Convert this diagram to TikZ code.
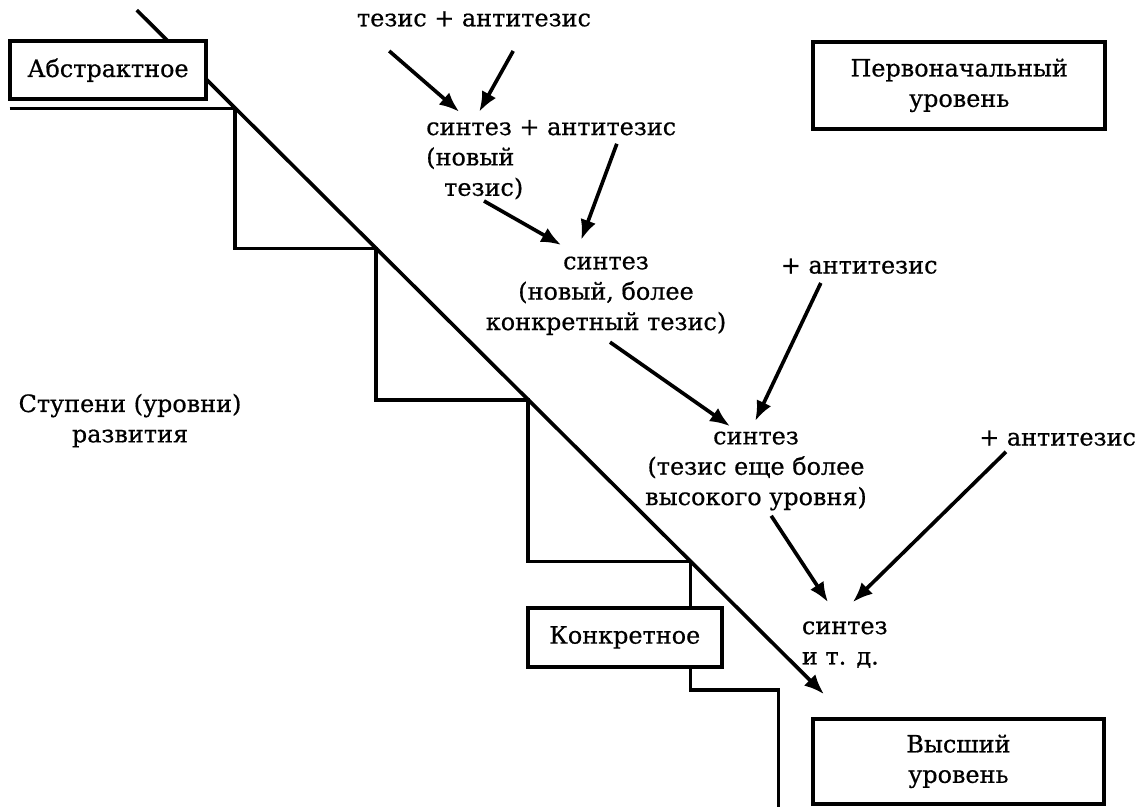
\documentclass[tikz,border=0pt]{standalone}
\usepackage{fontspec}
\setmainfont{DejaVu Serif}[FakeBold=0.6]
\usetikzlibrary{arrows.meta}

\begin{document}
\begin{tikzpicture}[
	font=\fontsize{8.5}{10.8}\selectfont,
	line width=1.3pt,
	box/.style={draw, fill=white, line width=1.4pt, align=center, inner sep=0pt},
	txt/.style={align=center, inner sep=1pt},
	arr/.style={-{Latex[length=2.5mm,width=2mm]}, line width=1.3pt},
	]
	\useasboundingbox (0,0) rectangle (14.2375,10.0875);

	\coordinate (up) at (1.71,9.96);
	\coordinate (down) at (10.30,1.41);

	% stairs
	\draw (0.12,8.73) -- (2.94,8.73) -- (2.94,6.98) -- (4.70,6.98) -- (4.70,5.09)
		-- (6.60,5.09) -- (6.60,3.07) -- (8.63,3.07) -- (8.63,1.46) -- (9.73,1.46) -- (9.73,0);
	\draw [arr] (up) to (down);

	\node [box, minimum width=2.44cm, minimum height=0.73cm] (abstr) at (1.35,9.21) {Абстрактное};
	\node [box, minimum width=3.65cm, minimum height=1.09cm] (first) at (11.99,9.02) {Первоначальный\\уровень};
	\node [box, minimum width=2.43cm, minimum height=0.74cm] (concr) at (7.81,2.12) {Конкретное};
	\node [box, minimum width=3.64cm, minimum height=1.06cm] (high) at (11.98,0.57) {Высший\\уровень};

	\node [txt] (levels) at (1.625,4.83) {Ступени (уровни)\\развития};

	\node [txt] (ta) at (5.925,9.85) {тезис + антитезис};
	\node [txt, align=left] (s1) at (6.89,8.09) {синтез + антитезис\\(новый\\\hspace*{0.75em}тезис)};
	\node [txt] (s2) at (7.575,6.39) {синтез\\(новый, более\\конкретный тезис)};
	\node [txt] (a1) at (10.74,6.76) {+ антитезис};
	\node [txt] (s3) at (9.45,4.20) {синтез\\(тезис еще более\\высокого уровня)};
	\node [txt] (a2) at (13.22,4.61) {+ антитезис};
	\node [txt, align=left] (s4) at (10.56,2.03) {синтез\\и т. д.};

	\draw [arr] ([shift={(-1.06,-0.40)}]ta.center) to ([shift={(-1.15,0.60)}]s1.center);
	\draw [arr] ([shift={(0.49,-0.40)}]ta.center) to ([shift={(-0.90,0.60)}]s1.center);

	\draw [arr] ([shift={(-0.84,-0.515)}]s1.center) to ([shift={(-0.56,0.635)}]s2.center);
	\draw [arr] ([shift={(0.82,0.20)}]s1.center) to ([shift={(-0.31,0.70)}]s2.center);

	\draw [arr] ([shift={(0.05,-0.58)}]s2.center) to ([shift={(-0.325,0.56)}]s3.center);
	\draw [arr] ([shift={(-0.48,-0.21)}]a1.center) to ([shift={(-0.01,0.625)}]s3.center);

	\draw [arr] ([shift={(0.19,-0.56)}]s3.center) to ([shift={(-0.21,0.53)}]s4.center);
	\draw [arr] ([shift={(-0.645,-0.17)}]a2.center) to ([shift={(0.10,0.53)}]s4.center);
\end{tikzpicture}
\end{document}
